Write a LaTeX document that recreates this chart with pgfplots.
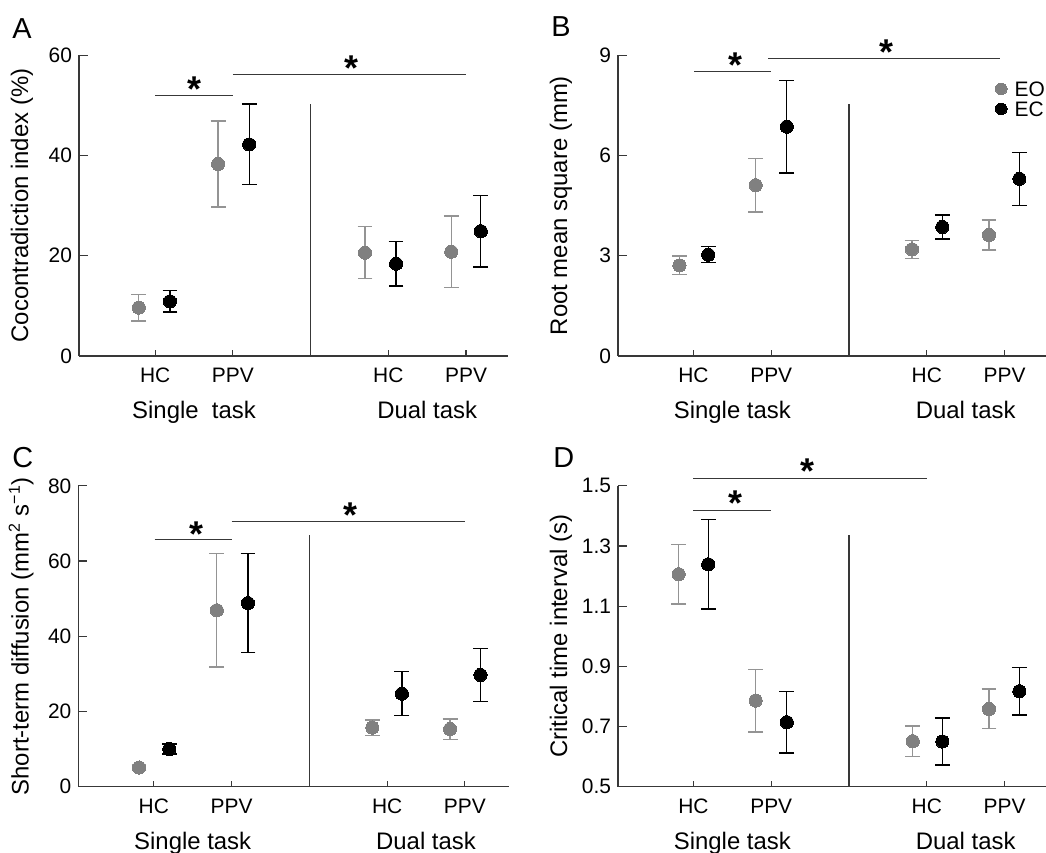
\documentclass[border=0pt]{standalone}
\usepackage{pgfplots}
\pgfplotsset{compat=1.18}
\usepackage{fontspec}
\setmainfont{Liberation Sans}
\definecolor{eogray}{gray}{0.50}
\definecolor{eobar}{gray}{0.58}
\definecolor{axgray}{gray}{0.22}

\pgfplotstableread{
x y e
0.79 9.65 2.65
1.81 38.3 8.6
3.70 20.6 5.2
4.81 20.8 7.1
}\AEO
\pgfplotstableread{
x y e
1.19 10.9 2.15
2.21 42.2 8.05
4.10 18.4 4.45
5.19 24.9 7.15
}\AEC
\pgfplotstableread{
x y e
0.82 2.71 0.28
1.80 5.11 0.80
3.81 3.19 0.27
4.80 3.62 0.45
}\BEO
\pgfplotstableread{
x y e
1.19 3.03 0.24
2.20 6.86 1.38
4.20 3.86 0.36
5.19 5.30 0.79
}\BEC
\pgfplotstableread{
x y e
0.81 5.06 0.7
1.81 46.9 15.05
3.81 15.7 2.05
4.81 15.3 2.7
}\CEO
\pgfplotstableread{
x y e
1.20 10.0 1.3
2.21 48.8 13.2
4.19 24.7 5.85
5.20 29.7 7.0
}\CEC
\pgfplotstableread{
x y e
0.81 1.206 0.099
1.80 0.786 0.104
3.82 0.651 0.050
4.80 0.758 0.066
}\DEO
\pgfplotstableread{
x y e
1.19 1.239 0.149
2.20 0.714 0.102
4.20 0.650 0.078
5.19 0.817 0.079
}\DEC

\pgfplotsset{
  panel/.style={
    scale only axis, height=150.4bp,
    axis x line=bottom, axis y line=left,
    axis line style={-, draw=axgray, line width=0.6bp},
    xtick={1,2,4,5}, xticklabels={HC,PPV,HC,PPV},
    tick style={draw=axgray, line width=0.6bp}, major tick length=4bp, tick align=inside,
    xtick style={/pgfplots/major tick length=3bp},
    ytick style={/pgfplots/major tick length=4.5bp},
    clip=false,
    /pgf/number format/assume math mode=true,
    ticklabel style={font=\fontsize{10.5}{12}\selectfont},
    xticklabel style={yshift=-2.5bp},
    ylabel style={font=\fontsize{12}{14}\selectfont, at={(axis description cs:-0.133,0.5)}, anchor=center},
  },
  eo/.style={only marks, mark=*, mark size=3.3bp, mark options={draw=eogray, fill=eogray, line width=0pt},
    error bars/.cd, y dir=both, y explicit,
    error bar style={line width=0.65bp, draw=eobar},
    error mark options={rotate=90, mark size=3.7bp, line width=0.65bp, draw=eobar}},
  ec/.style={only marks, mark=*, mark size=3.3bp, mark options={draw=black, fill=black, line width=0pt},
    error bars/.cd, y dir=both, y explicit,
    error bar style={line width=0.65bp, draw=black},
    error mark options={rotate=90, mark size=3.7bp, line width=0.65bp, draw=black}},
  sig/.style={no marks, line width=0.6bp, draw=axgray},
}
\newcommand{\sigast}{\fontsize{18}{18}\selectfont\bfseries *}
\tikzset{star/.style={inner sep=0pt, anchor=base, yshift=-10.3bp},
  cat/.style={font=\fontsize{12}{14}\selectfont, anchor=base, inner sep=0pt, yshift=-31.5bp},
  lett/.style={font=\fontsize{14.5}{16}\selectfont, anchor=base west, inner sep=0pt}}

\begin{document}
\begin{tikzpicture}
\path[use as bounding box] (0,0) rectangle (523bp,426.5bp);
\node[lett] at (6bp,407.4bp) {A};
\node[lett] at (275.5bp,408bp) {B};
\node[lett] at (6bp,192.5bp) {C};
\node[lett] at (276.5bp,192.5bp) {D};

% Panel A
\begin{axis}[panel, at={(39.5bp,248.5bp)}, anchor=south west, width=214.5bp,
  xmin=0.02, xmax=5.54, ymin=0, ymax=60, ytick={0,20,40,60},
  ylabel={Cocontradiction index (\%)}]
\addplot[eo] table[x=x,y=y,y error=e] {\AEO};
\addplot[ec] table[x=x,y=y,y error=e] {\AEC};
\addplot[sig] coordinates {(3,0) (3,50.2)};
\addplot[sig] coordinates {(1,52.0) (2,52.0)};
\addplot[sig] coordinates {(2,56.1) (5,56.1)};
\node[star] at (axis cs:1.5,54.8) {\sigast};
\node[star] at (axis cs:3.53,59.0) {\sigast};
\node[cat] at (axis cs:1.5,0) {Single~~task};
\node[cat] at (axis cs:4.5,0) {Dual task};
\end{axis}

% Panel B
\begin{axis}[panel, at={(309bp,248.5bp)}, anchor=south west, width=214.3bp,
  xmin=0.03, xmax=5.54, ymin=0, ymax=9, ytick={0,3,6,9},
  ylabel={Root mean square (mm)},
  legend style={at={(axis cs:4.80,8.38)}, anchor=north west, draw=none, fill=none,
    font=\fontsize{10.5}{11}\selectfont, row sep=1.4bp,
    nodes={inner sep=0.5bp, text height=7.6bp, text depth=0bp},
    /tikz/every odd column/.append style={column sep=3.3bp}},
  legend cell align=left,
  legend image code/.code={\draw[#1, mark size=2.9bp] plot coordinates {(0bp,0bp)};}]
\addplot[eo] table[x=x,y=y,y error=e] {\BEO};
\addlegendentry{EO}
\addplot[ec] table[x=x,y=y,y error=e] {\BEC};
\addlegendentry{EC}
\addplot[sig, forget plot] coordinates {(3,0) (3,7.53)};
\addplot[sig, forget plot] coordinates {(1.01,8.51) (2,8.51)};
\addplot[sig, forget plot] coordinates {(1.96,8.90) (4.94,8.90)};
\node[star] at (axis cs:1.535,8.95) {\sigast};
\node[star] at (axis cs:3.48,9.35) {\sigast};
\node[cat] at (axis cs:1.5,0) {Single task};
\node[cat] at (axis cs:4.5,0) {Dual task};
\end{axis}

% Panel C
\begin{axis}[panel, at={(39.2bp,33.2bp)}, anchor=south west, width=215.4bp,
  xmin=0.03, xmax=5.57, ymin=0, ymax=80, ytick={0,20,40,60,80},
  ylabel={Short-term diffusion (mm\textsuperscript{2} s\textsuperscript{−1})}]
\addplot[eo] table[x=x,y=y,y error=e] {\CEO};
\addplot[ec] table[x=x,y=y,y error=e] {\CEC};
\addplot[sig] coordinates {(3,0) (3,67.0)};
\addplot[sig] coordinates {(1.01,65.7) (2,65.7)};
\addplot[sig] coordinates {(2,70.6) (5,70.6)};
\node[star] at (axis cs:1.545,69.4) {\sigast};
\node[star] at (axis cs:3.53,74.3) {\sigast};
\node[cat] at (axis cs:1.5,0) {Single task};
\node[cat] at (axis cs:4.5,0) {Dual task};
\end{axis}

% Panel D
\begin{axis}[panel, at={(309bp,33.2bp)}, anchor=south west, width=214.3bp,
  xmin=0.03, xmax=5.54, ymin=0.5, ymax=1.5, ytick={0.5,0.7,0.9,1.1,1.3,1.5},
  yticklabel style={/pgf/number format/.cd, fixed, fixed zerofill, precision=1},
  ylabel={Critical time interval (s)}]
\addplot[eo] table[x=x,y=y,y error=e] {\DEO};
\addplot[ec] table[x=x,y=y,y error=e] {\DEC};
\addplot[sig] coordinates {(3,0.5) (3,1.337)};
\addplot[sig] coordinates {(1,1.419) (2,1.419)};
\addplot[sig] coordinates {(1,1.523) (4,1.523)};
\node[star] at (axis cs:1.535,1.470) {\sigast};
\node[star] at (axis cs:2.47,1.575) {\sigast};
\node[cat] at (axis cs:1.5,0.5) {Single task};
\node[cat] at (axis cs:4.5,0.5) {Dual task};
\end{axis}
\end{tikzpicture}
\end{document}
